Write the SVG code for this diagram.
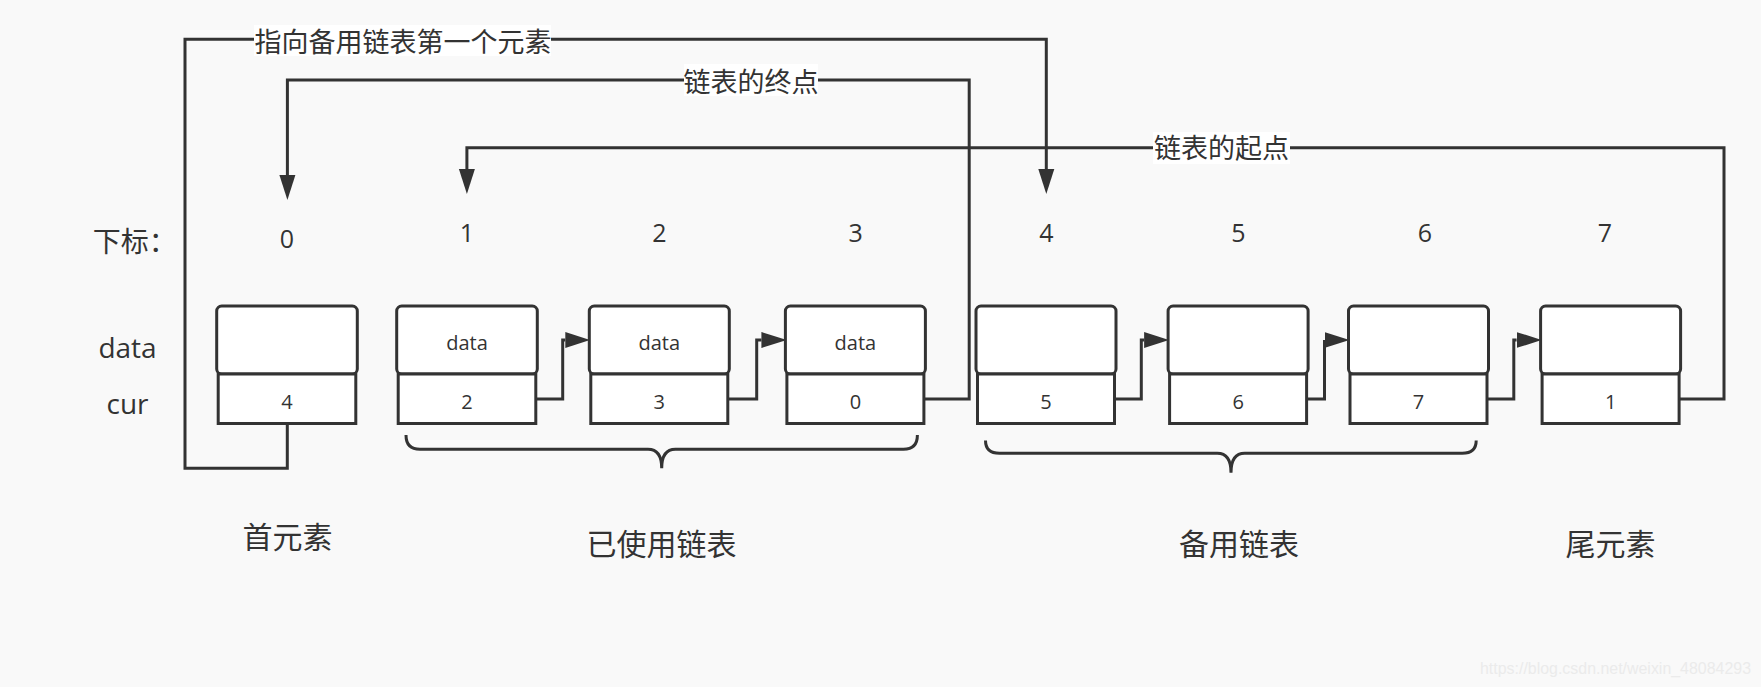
<svg xmlns="http://www.w3.org/2000/svg" width="1761" height="687" viewBox="0 0 1761 687">
<style>
.ln{fill:none;stroke:#333333;stroke-width:3}
.bx{fill:#ffffff;stroke:#333333;stroke-width:3}
.lat{font-family:"Open Sans","Liberation Sans",sans-serif;fill:#333333;text-anchor:middle}
.cjk{font-family:"Noto Sans CJK SC","Noto Sans",sans-serif;fill:#333333;text-anchor:middle}
.lbg{fill:#ffffff;stroke:none}
.in{font-size:20px}
.idx{font-size:25px}
</style>
<defs>
<marker id="ah" markerUnits="userSpaceOnUse" markerWidth="25" markerHeight="17" refX="0" refY="8" orient="auto" viewBox="0 0 25 16">
<path d="M0,0 L25,8 L0,16 Z" fill="#333333"/>
</marker>
</defs>
<rect x="0" y="0" width="1761" height="687" fill="#f9f9f9"/>

<g id="row-labels">
<text class="cjk" x="92.7" y="252" font-size="28" style="text-anchor:start">下标：</text>
<text class="lat" x="127.5" y="358" font-size="28">data</text>
<text class="lat" x="127.5" y="414" font-size="28">cur</text>
</g>

<g id="index-labels" class="idx">
<text class="lat idx" x="287" y="248">0</text>
<text class="lat idx" x="467" y="241.5">1</text>
<text class="lat idx" x="659.4" y="241.5">2</text>
<text class="lat idx" x="855.7" y="241.5">3</text>
<text class="lat idx" x="1046.3" y="241.5">4</text>
<text class="lat idx" x="1238.3" y="241.5">5</text>
<text class="lat idx" x="1425" y="241.5">6</text>
<text class="lat idx" x="1605" y="241.5">7</text>
</g>

<g id="connectors">
<path class="ln" d="M287.3,423.5 V468.3 H185 V39.3 H1046.3 V169" marker-end="url(#ah)"/>
<path class="ln" d="M925,399 H969.2 V80 H287.4 V175" marker-end="url(#ah)"/>
<path class="ln" d="M1679,399 H1724 V147.7 H466.9 V169" marker-end="url(#ah)"/>
<path class="ln" d="M535.2,399 H562.7 V340 H565.3" marker-end="url(#ah)"/>
<path class="ln" d="M727.8,399 H756.7 V340 H761.4" marker-end="url(#ah)"/>
<path class="ln" d="M1114.5,399 H1141.3 V340 H1144.1" marker-end="url(#ah)"/>
<path class="ln" d="M1306.6,399 H1324.5 V340 H1324.5" marker-end="url(#ah)"/>
<path class="ln" d="M1487,399 H1513.8 V340 H1516.6" marker-end="url(#ah)"/>
<rect class="lbg" x="254" y="25" width="297" height="31"/>
<text class="cjk" x="403" y="52" font-size="27">指向备用链表第一个元素</text>
<rect class="lbg" x="684" y="64" width="134" height="32"/>
<text class="cjk" x="751" y="92" font-size="27">链表的终点</text>
<rect class="lbg" x="1153" y="132" width="137" height="32"/>
<text class="cjk" x="1221.4" y="158" font-size="27">链表的起点</text>
</g>

<g id="node-0">
<rect class="bx" x="216.7" y="306" width="140.6" height="68" rx="5"/>
<rect class="bx" x="218.2" y="374" width="137.6" height="49.5"/>
<text class="lat in" x="287" y="409">4</text>
</g>
<g id="node-1">
<rect class="bx" x="396.7" y="306" width="140.6" height="68" rx="5"/>
<rect class="bx" x="398.2" y="374" width="137.6" height="49.5"/>
<text class="lat in" x="467" y="350">data</text>
<text class="lat in" x="467" y="409">2</text>
</g>
<g id="node-2">
<rect class="bx" x="589.3" y="306" width="140" height="68" rx="5"/>
<rect class="bx" x="590.8" y="374" width="137" height="49.5"/>
<text class="lat in" x="659.3" y="350">data</text>
<text class="lat in" x="659.3" y="409">3</text>
</g>
<g id="node-3">
<rect class="bx" x="785.4" y="306" width="140" height="68" rx="5"/>
<rect class="bx" x="786.9" y="374" width="137" height="49.5"/>
<text class="lat in" x="855.4" y="350">data</text>
<text class="lat in" x="855.4" y="409">0</text>
</g>
<g id="node-4">
<rect class="bx" x="976" y="306" width="140" height="68" rx="5"/>
<rect class="bx" x="977.5" y="374" width="137" height="49.5"/>
<text class="lat in" x="1046" y="409">5</text>
</g>
<g id="node-5">
<rect class="bx" x="1168.1" y="306" width="140" height="68" rx="5"/>
<rect class="bx" x="1169.6" y="374" width="137" height="49.5"/>
<text class="lat in" x="1238.1" y="409">6</text>
</g>
<g id="node-6">
<rect class="bx" x="1348.5" y="306" width="140" height="68" rx="5"/>
<rect class="bx" x="1350" y="374" width="137" height="49.5"/>
<text class="lat in" x="1418.5" y="409">7</text>
</g>
<g id="node-7">
<rect class="bx" x="1540.6" y="306" width="140" height="68" rx="5"/>
<rect class="bx" x="1542.1" y="374" width="137" height="49.5"/>
<text class="lat in" x="1610.6" y="409">1</text>
</g>

<g id="brace-used">
<path class="ln" d="M406,435 Q406,449.3 420,449.3 H648 Q661.7,449.3 661.7,468.3 M917.4,435 Q917.4,449.3 903.4,449.3 H675.4 Q661.7,449.3 661.7,468.3"/>
</g>
<g id="brace-spare">
<path class="ln" d="M985.5,440.5 Q985.5,453.3 999.5,453.3 H1217.3 Q1231,453.3 1231,472.7 M1476.2,440.5 Q1476.2,453.3 1462.2,453.3 H1244.7 Q1231,453.3 1231,472.7"/>
</g>

<g id="group-labels">
<text class="cjk" x="287.5" y="548" font-size="30">首元素</text>
<text class="cjk" x="661.5" y="555" font-size="30">已使用链表</text>
<text class="cjk" x="1239" y="555" font-size="30">备用链表</text>
<text class="cjk" x="1610.5" y="555" font-size="30">尾元素</text>
</g>

<text x="1480" y="674" font-family="Liberation Sans, sans-serif" font-size="16" fill="#ebebeb" textLength="271" lengthAdjust="spacingAndGlyphs">https://blog.csdn.net/weixin_48084293</text>
</svg>
